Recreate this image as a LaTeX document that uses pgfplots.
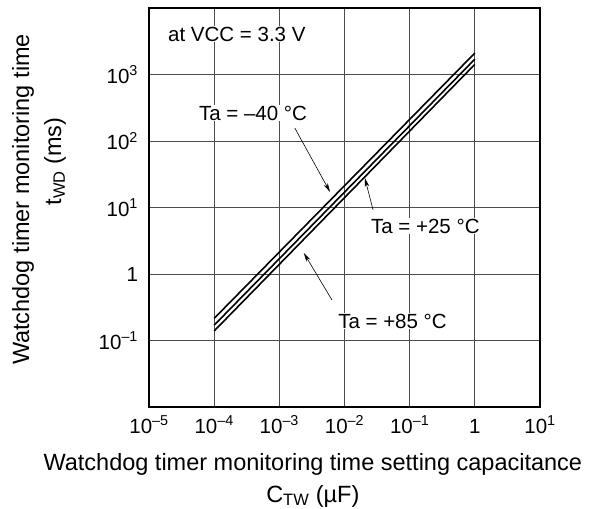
\documentclass[border=0pt]{standalone}
\usepackage{fontspec}
\setmainfont{Liberation Sans}
\usepackage{pgfplots}
\pgfplotsset{compat=1.18}
\usetikzlibrary{arrows.meta}
\tikzset{
    annot/.style={fill=white, inner sep=1pt, anchor=base west, font=\fontsize{20.5}{24}\selectfont},
    arr/.style={-{Stealth[length=9pt,width=4.5pt]}, line width=0.6pt},
}

\begin{document}
\fontsize{20.5}{24}\selectfont
\begin{tikzpicture}
\begin{axis}[
    scale only axis,
    width=391pt, height=399pt,
    xmode=log, ymode=log,
    xmin=1e-5, xmax=10,
    ymin=1e-2, ymax=1e4,
    xtick={1e-5,1e-4,1e-3,1e-2,1e-1,1,10},
    xticklabels={10\textsuperscript{–5},10\textsuperscript{–4},10\textsuperscript{–3},10\textsuperscript{–2},10\textsuperscript{–1},1,10\textsuperscript{1}},
    ytick={0.1,1,10,100,1000},
    yticklabels={10\textsuperscript{–1},1,10\textsuperscript{1},10\textsuperscript{2},10\textsuperscript{3}},
    minor xtick={}, minor ytick={},
    major tick length=0pt, minor tick length=0pt,
    grid=major,
    grid style={black!70, line width=0.7pt},
    axis line style={line width=1.1pt},
    tick label style={font=\fontsize{20.5}{24}\selectfont},
    xticklabel style={anchor=base, yshift=-26pt},
    yticklabel style={xshift=-4pt},
    xlabel={Watchdog timer monitoring time setting capacitance\\C\textsubscript{TW} (µF)},
    ylabel={Watchdog timer monitoring time\\\hspace*{76pt}t\textsubscript{WD} (ms)},
    xlabel style={font=\fontsize{23.5}{32}\selectfont, align=center, inner sep=0pt,
        at={(axis description cs:0.419,0)}, anchor=north, yshift=-46pt},
    ylabel style={font=\fontsize{23.5}{32}\selectfont, align=center, inner sep=0pt,
        at={(axis description cs:-0.3504,0.52)}, anchor=north},
]
% Ta = -40 C
\addplot[black, line width=1.6pt] coordinates {(1e-4,0.215) (1,2100)};
% Ta = +25 C
\addplot[black, line width=1.6pt] coordinates {(1e-4,0.17) (1,1700)};
% Ta = +85 C
\addplot[black, line width=1.6pt] coordinates {(1e-4,0.139) (1,1420)};

\node[annot] at (rel axis cs:0.046,0.917) {at VCC = 3.3 V};
\node[annot] at (rel axis cs:0.125,0.719) {Ta = –40 °C};
\node[annot] at (rel axis cs:0.565,0.436) {Ta = +25 °C};
\node[annot] at (rel axis cs:0.481,0.198) {Ta = +85 °C};

\draw[arr] (rel axis cs:0.373,0.699) -- (rel axis cs:0.463,0.539);
\draw[arr] (rel axis cs:0.573,0.494) -- (rel axis cs:0.552,0.574);
\draw[arr] (rel axis cs:0.468,0.268) -- (rel axis cs:0.396,0.386);
\end{axis}
\pgfresetboundingbox
\path ([shift={(-149pt,-101pt)}]current axis.south west) rectangle ([shift={(53pt,8pt)}]current axis.north east);
\end{tikzpicture}
\end{document}
